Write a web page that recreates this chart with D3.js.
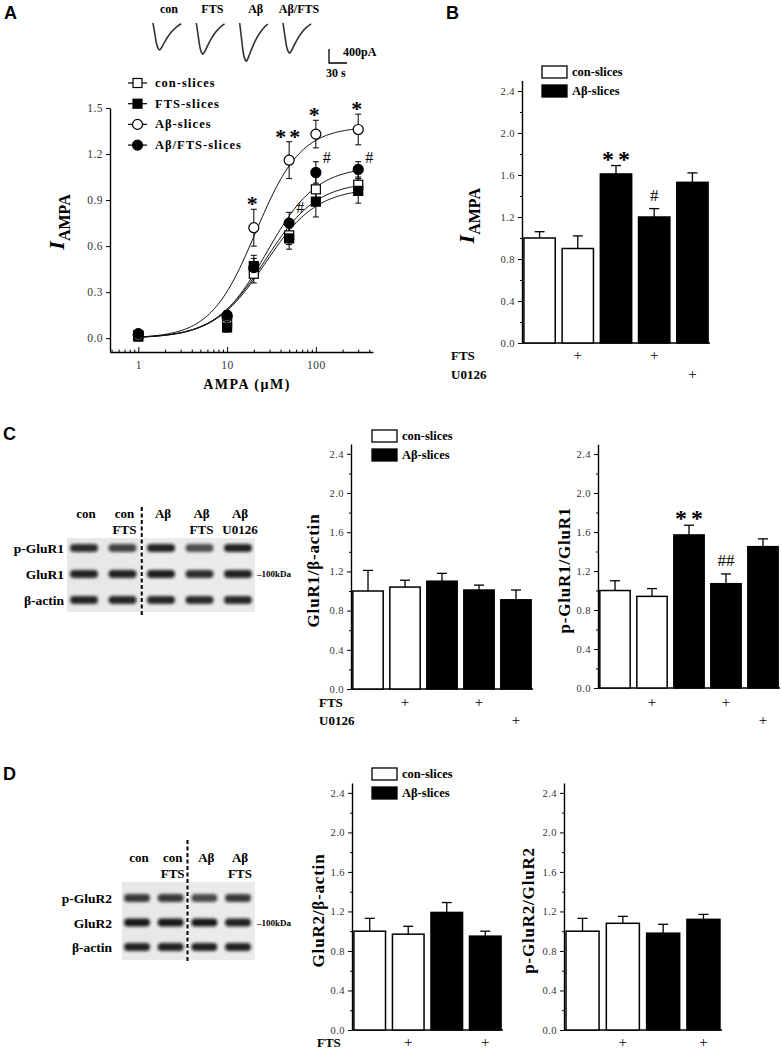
<!DOCTYPE html>
<meta charset="utf-8">
<head>
<style>
body { margin: 0; background: #fff; }
svg text { font-family: "Liberation Serif", "Times New Roman", serif; }
.panel { font-family: "Liberation Sans", Arial, sans-serif !important; font-weight: bold; font-size: 18px; }
.tk text { font-size: 10.5px; fill: #333; letter-spacing: 0.5px; }
.tk .domain { stroke: #000; stroke-width: 1.4; }
.tk line { stroke: #000; }
.lab { font-weight: bold; }
</style>
</head>
<body>
<div id="fig"></div>
<script src="https://d3js.org/d3.v7.min.js"></script>
<script>

// ---- panel A : current traces ----
var traceNames = ["con", "FTS", "Aβ", "Aβ/FTS"];
var traceAmp = [770, 890, 1090, 860];           // pA
// time (s), normalised current
var traceShape = [[0, 0], [3, -0.4], [6, -0.78], [9, -0.96], [11, -1], [14, -0.92], [19, -0.72],
                  [25, -0.5], [32, -0.3], [40, -0.13], [47, -0.03]];

// ---- panel A : dose response ----
var doses = [1, 10, 20, 50, 100, 300];
var conMean = [0.02, 0.10, 0.42, 0.67, 0.97, 1.00];
var conSem  = [0.01, 0.03, 0.06, 0.06, 0.08, 0.07];
var ftsMean = [0.01, 0.07, 0.47, 0.65, 0.89, 0.96];
var ftsSem  = [0.01, 0.03, 0.07, 0.07, 0.10, 0.08];
var abMean  = [0.02, 0.14, 0.72, 1.16, 1.33, 1.36];
var abSem   = [0.01, 0.03, 0.12, 0.12, 0.09, 0.10];
var abFtsMean = [0.03, 0.15, 0.46, 0.75, 1.08, 1.10];
var abFtsSem  = [0.01, 0.03, 0.06, 0.07, 0.07, 0.05];
var abSig    = ["", "", "*", "**", "*", "*"];
var abFtsSig = ["", "", "", "#", "#", "#"];
// Hill fit parameters (con, FTS, Aβ, Aβ/FTS)
var fitImax = [1.02, 0.98, 1.38, 1.12];
var fitEC50 = [27, 27, 21, 28];
var fitHill = [1.5, 1.5, 1.7, 1.55];

// ---- bar charts ----
var iampaMean = [1.00, 0.90, 1.61, 1.20, 1.53];
var iampaSem  = [0.06, 0.12, 0.08, 0.08, 0.09];
var iampaSig  = ["", "", "**", "#", ""];
var glur1Mean = [1.00, 1.04, 1.10, 1.01, 0.91];
var glur1Sem  = [0.21, 0.07, 0.08, 0.05, 0.10];
var pglur1Mean = [1.00, 0.94, 1.57, 1.07, 1.45];
var pglur1Sem  = [0.10, 0.08, 0.10, 0.10, 0.08];
var pglur1Sig  = ["", "", "**", "##", ""];
var glur2Mean = [1.00, 0.97, 1.19, 0.95];
var glur2Sem  = [0.13, 0.08, 0.10, 0.05];
var pglur2Mean = [1.00, 1.08, 0.98, 1.12];
var pglur2Sem  = [0.13, 0.07, 0.09, 0.05];
var group5 = ["con", "con", "ab", "ab", "ab"];
var fts5   = ["", "+", "", "+", ""];
var u5     = ["", "", "", "", "+"];
var group4 = ["con", "con", "ab", "ab"];
var fts4   = ["", "+", "", "+"];
var yTicks = [0, 0.4, 0.8, 1.2, 1.6, 2.0, 2.4];
var yMinor = [0.2, 0.6, 1.0, 1.4, 1.8, 2.2];

// ---- western blots ----
var cLaneTop = ["con", "con", "Aβ", "Aβ", "Aβ"];
var cLaneBot = ["", "FTS", "", "FTS", "U0126"];
var cRows = ["p-GluR1", "GluR1", "β-actin"];
var cBand = [[0.85, 0.75, 0.9, 0.7, 0.9], [0.9, 0.9, 0.92, 0.85, 0.9], [0.88, 0.88, 0.88, 0.86, 0.88]];
var dLaneTop = ["con", "con", "Aβ", "Aβ"];
var dLaneBot = ["", "FTS", "", "FTS"];
var dRows = ["p-GluR2", "GluR2", "β-actin"];
var dBand = [[0.8, 0.8, 0.72, 0.8], [0.95, 0.95, 0.95, 0.9], [0.9, 0.9, 0.9, 0.9]];

var W = 782, H = 1049;
var svg = d3.select("#fig").append("svg").attr("width", W).attr("height", H);
svg.append("rect").attr("width", W).attr("height", H).attr("fill", "#fff");
var defs = svg.append("defs");
defs.append("filter").attr("id", "blur").attr("x", "-20%").attr("y", "-50%").attr("width", "140%").attr("height", "200%")
  .append("feGaussianBlur").attr("stdDeviation", 1.5);
defs.append("filter").attr("id", "soft").append("feGaussianBlur").attr("stdDeviation", 0.5);

// panel letters
[["A", 4, 19], ["B", 446, 19], ["C", 3, 440], ["D", 3, 780]].forEach(function(p) {
  svg.append("text").attr("class", "panel").attr("x", p[1]).attr("y", p[2]).text(p[0]);
});

// ================= traces =================
var tx = d3.scalePoint().domain(traceNames).range([153, 283]);
var tt = d3.scaleLinear().domain([0, 30]).range([0, 18]);
var ti = d3.scaleLinear().domain([-400, 0]).range([37, 23]);
traceNames.forEach(function(name, i) {
  var line = d3.line()
    .x(function(d) { return tx(name) + tt(d[0]); })
    .y(function(d) { return ti(d[1] * traceAmp[i]); })
    .curve(d3.curveMonotoneX);
  svg.append("path").attr("d", line(traceShape)).attr("fill", "none")
    .attr("stroke", "#333").attr("stroke-width", 1.6).attr("filter", "url(#soft)");
  svg.append("text").attr("class", "lab").attr("x", tx(name) + 16).attr("y", 13)
    .attr("text-anchor", "middle").style("font-size", "12px").text(name);
});
// scale bar
var sbX = 329, sbY = 63;
svg.append("path").attr("d", "M" + sbX + "," + (sbY - (ti(-400) - ti(0))) + "V" + sbY + "H" + (sbX + tt(30)))
  .attr("fill", "none").attr("stroke", "#000").attr("stroke-width", 1.3);
svg.append("text").attr("class", "lab").attr("x", sbX + 14).attr("y", 56).style("font-size", "12px").text("400pA");
svg.append("text").attr("class", "lab").attr("x", sbX - 3).attr("y", 77).style("font-size", "12px").text("30 s");

// ================= dose response =================
var ax = d3.scaleLog().domain([0.48, 440]).range([110, 373]);
var ay = d3.scaleLinear().domain([-0.09, 1.5]).range([352, 108]);

var gA = svg.append("g");
gA.append("g").attr("class", "tk").attr("transform", "translate(110,0)")
  .call(d3.axisLeft(ay).tickValues([0, 0.3, 0.6, 0.9, 1.2, 1.5]).tickFormat(d3.format(".1f")).tickSize(4).tickSizeOuter(0))
  .selectAll("text").style("font-size", "11.5px");
gA.append("g").attr("class", "tk").attr("transform", "translate(0,352)")
  .call(d3.axisBottom(ax).tickValues([1, 10, 100]).tickFormat(d3.format("d")).tickSizeInner(-5).tickSizeOuter(0).tickPadding(9))
  .selectAll("text").style("font-size", "11.5px");
var minorX = [0.5, 0.6, 0.7, 0.8, 0.9, 2, 3, 4, 5, 6, 7, 8, 9, 20, 30, 40, 50, 60, 70, 80, 90, 200, 300, 400];
gA.append("g").attr("class", "tk").attr("transform", "translate(0,352)")
  .call(d3.axisBottom(ax).tickValues(minorX).tickFormat("").tickSizeInner(-2.5).tickSizeOuter(0))
  .select(".domain").remove();

// y label I_AMPA
var yl = gA.append("text").attr("transform", "translate(64,222) rotate(-90)").attr("text-anchor", "middle");
yl.append("tspan").style("font-style", "italic").style("font-weight", "bold").style("font-size", "22px").text("I");
yl.append("tspan").attr("dy", 6).style("font-weight", "bold").style("font-size", "16px").text("AMPA");
gA.append("text").attr("class", "lab").attr("x", 247).attr("y", 389).attr("text-anchor", "middle")
  .style("font-size", "14px").style("letter-spacing", "1.5px").text("AMPA (μM)");

var series = [
  {name: "con-slices", mean: conMean, sem: conSem, shape: "square", fill: "#fff"},
  {name: "FTS-slices", mean: ftsMean, sem: ftsSem, shape: "square", fill: "#000"},
  {name: "Aβ-slices", mean: abMean, sem: abSem, shape: "circle", fill: "#fff"},
  {name: "Aβ/FTS-slices", mean: abFtsMean, sem: abFtsSem, shape: "circle", fill: "#000"}
];

function marker(g, shape, fill, cx, cy) {
  if (shape === "square") {
    g.append("rect").attr("x", cx - 4.5).attr("y", cy - 4.5).attr("width", 9).attr("height", 9)
      .attr("fill", fill).attr("stroke", "#000").attr("stroke-width", 1.2);
  } else {
    g.append("circle").attr("cx", cx).attr("cy", cy).attr("r", 5)
      .attr("fill", fill).attr("stroke", "#000").attr("stroke-width", 1.2);
  }
}

var fitDoses = d3.range(0, 2.48, 0.02).map(function(e) { return Math.pow(10, e); });
series.forEach(function(s, i) {
  var fit = d3.line()
    .x(function(d) { return ax(d); })
    .y(function(d) { var p = Math.pow(d / fitEC50[i], fitHill[i]); return ay(fitImax[i] * p / (1 + p)); });
  gA.append("path").attr("d", fit(fitDoses)).attr("fill", "none").attr("stroke", "#111").attr("stroke-width", 1);
});
series.forEach(function(s) {
  doses.forEach(function(d, j) {
    var cx = ax(d);
    gA.append("line").attr("x1", cx).attr("x2", cx).attr("y1", ay(s.mean[j] - s.sem[j])).attr("y2", ay(s.mean[j] + s.sem[j]))
      .attr("stroke", "#000").attr("stroke-width", 1);
    [s.mean[j] - s.sem[j], s.mean[j] + s.sem[j]].forEach(function(v) {
      gA.append("line").attr("x1", cx - 3).attr("x2", cx + 3).attr("y1", ay(v)).attr("y2", ay(v)).attr("stroke", "#000");
    });
  });
});
series.forEach(function(s) {
  doses.forEach(function(d, j) { marker(gA, s.shape, s.fill, ax(d), ay(s.mean[j])); });
});
doses.forEach(function(d, j) {
  if (abSig[j]) gA.append("text").attr("class", "lab").attr("x", ax(d)).attr("y", ay(abMean[j] + abSem[j]) + 2)
    .attr("text-anchor", "middle").style("font-size", "22px").style("letter-spacing", "3px").text(abSig[j]);
  if (abFtsSig[j]) gA.append("text").attr("x", ax(d) + 11).attr("y", ay(abFtsMean[j] + abFtsSem[j]) + 1)
    .attr("text-anchor", "middle").style("font-size", "16px").text(abFtsSig[j]);
});
// legend A
series.forEach(function(s, i) {
  var ly = 83 + i * 20.7;
  gA.append("line").attr("x1", 128).attr("x2", 147).attr("y1", ly).attr("y2", ly).attr("stroke", "#000").attr("stroke-width", 1.2);
  marker(gA, s.shape, s.fill, 137.5, ly);
  gA.append("text").attr("class", "lab").attr("x", 155).attr("y", ly + 4).style("font-size", "12.5px")
    .style("letter-spacing", "1px").text(s.name);
});

// ================= bar chart panels =================
function legend(x, y) {
  [["con-slices", "#fff"], ["Aβ-slices", "#000"]].forEach(function(l, i) {
    svg.append("rect").attr("x", x).attr("y", y + i * 19).attr("width", 25).attr("height", 12)
      .attr("fill", l[1]).attr("stroke", "#000").attr("stroke-width", 1.3);
    svg.append("text").attr("class", "lab").attr("x", x + 30).attr("y", y + i * 19 + 10)
      .style("font-size", "12.5px").text(l[0]);
  });
}

function barPanel(c) {
  var n = c.mean.length;
  var x = d3.scaleBand().domain(d3.range(n)).range(c.xr).paddingInner(0.18).paddingOuter(0.05);
  var y = d3.scaleLinear().domain([0, 2.5]).range(c.yr);
  var g = svg.append("g");
  g.append("g").attr("class", "tk").attr("transform", "translate(" + c.xr[0] + ",0)")
    .call(d3.axisLeft(y).tickValues(yTicks).tickFormat(d3.format(".1f")).tickSize(4).tickSizeOuter(0));
  g.append("g").attr("class", "tk").attr("transform", "translate(" + c.xr[0] + ",0)")
    .call(d3.axisLeft(y).tickValues(yMinor).tickFormat("").tickSize(2).tickSizeOuter(0))
    .select(".domain").remove();
  g.append("line").attr("x1", c.xr[0]).attr("x2", c.xr[1]).attr("y1", y(0)).attr("y2", y(0))
    .attr("stroke", "#000").attr("stroke-width", 1.4);
  c.mean.forEach(function(m, i) {
    var cx = x(i) + x.bandwidth() / 2, top = y(m + c.sem[i]);
    g.append("line").attr("x1", cx).attr("x2", cx).attr("y1", y(m)).attr("y2", top).attr("stroke", "#000").attr("stroke-width", 1.3);
    g.append("line").attr("x1", cx - 5).attr("x2", cx + 5).attr("y1", top).attr("y2", top).attr("stroke", "#000").attr("stroke-width", 1.3);
    g.append("rect").attr("x", x(i)).attr("y", y(m)).attr("width", x.bandwidth()).attr("height", y(0) - y(m))
      .attr("fill", c.group[i] === "con" ? "#fff" : "#000").attr("stroke", "#000").attr("stroke-width", 1.5);
    var s = c.sig ? c.sig[i] : "";
    if (s.indexOf("*") >= 0) {
      g.append("text").attr("class", "lab").attr("x", cx + 2).attr("y", top + 1).attr("text-anchor", "middle")
        .style("font-size", "24px").style("letter-spacing", "4px").text(s);
    } else if (s) {
      g.append("text").attr("x", cx).attr("y", top - 8).attr("text-anchor", "middle")
        .style("font-size", "17px").text(s);
    }
  });
  c.rows.forEach(function(r) {
    if (c.rowLabelX !== null) g.append("text").attr("class", "lab").attr("x", c.rowLabelX).attr("y", r.y)
      .style("font-size", "13px").text(r.label);
    r.marks.forEach(function(mk, i) {
      if (mk) g.append("text").attr("x", x(i) + x.bandwidth() / 2).attr("y", r.y).attr("text-anchor", "middle")
        .style("font-size", "15px").text(mk);
    });
  });
  var cy = (c.yr[0] + c.yr[1]) / 2 + 4;
  if (c.iampa) {
    var t = g.append("text").attr("transform", "translate(" + c.ylabelX + "," + cy + ") rotate(-90)").attr("text-anchor", "middle");
    t.append("tspan").style("font-style", "italic").style("font-weight", "bold").style("font-size", "22px").text("I");
    t.append("tspan").attr("dy", 6).style("font-weight", "bold").style("font-size", "16px").text("AMPA");
  } else {
    g.append("text").attr("class", "lab").attr("transform", "translate(" + c.ylabelX + "," + cy + ") rotate(-90)")
      .attr("text-anchor", "middle").attr("dy", "0.35em").style("font-size", "17px").style("letter-spacing", "0.8px").text(c.ylabel);
  }
}

// B
legend(542, 66);
barPanel({xr: [522, 710], yr: [343, 80.5], mean: iampaMean, sem: iampaSem, group: group5, sig: iampaSig,
  iampa: true, ylabelX: 474, rowLabelX: 451,
  rows: [{label: "FTS", marks: fts5, y: 360}, {label: "U0126", marks: u5, y: 379}]});
// C middle
legend(372, 430);
barPanel({xr: [351, 533], yr: [689, 444], mean: glur1Mean, sem: glur1Sem, group: group5,
  ylabel: "GluR1/β-actin", ylabelX: 313, rowLabelX: 319,
  rows: [{label: "FTS", marks: fts5, y: 707}, {label: "U0126", marks: u5, y: 725}]});
// C right
barPanel({xr: [598, 780], yr: [688, 444.3], mean: pglur1Mean, sem: pglur1Sem, group: group5, sig: pglur1Sig,
  ylabel: "p-GluR1/GluR1", ylabelX: 564, rowLabelX: null,
  rows: [{label: "", marks: fts5, y: 707}, {label: "", marks: u5, y: 725}]});
// D middle
legend(372, 768);
barPanel({xr: [352, 503], yr: [1030, 783], mean: glur2Mean, sem: glur2Sem, group: group4,
  ylabel: "GluR2/β-actin", ylabelX: 318, rowLabelX: 317,
  rows: [{label: "FTS", marks: fts4, y: 1047}]});
// D right
barPanel({xr: [564, 722], yr: [1030, 783], mean: pglur2Mean, sem: pglur2Sem, group: group4,
  ylabel: "p-GluR2/GluR2", ylabelX: 528, rowLabelX: null,
  rows: [{label: "", marks: fts4, y: 1047}]});

// ================= western blots =================
function blot(c) {
  var lx = d3.scalePoint().domain(d3.range(c.top.length)).range(c.lanes);
  var ry = d3.scalePoint().domain(c.rows).range(c.rowY);
  var g = svg.append("g");
  var split = (lx(1) + lx(2)) / 2;
  g.append("rect").attr("x", c.bg[0]).attr("y", c.bg[1]).attr("width", split - c.bg[0] - 1).attr("height", c.bg[3] - c.bg[1])
    .attr("fill", "#e8e8e8").attr("filter", "url(#soft)");
  g.append("rect").attr("x", split + 1).attr("y", c.bg[1]).attr("width", c.bg[2] - split - 1).attr("height", c.bg[3] - c.bg[1])
    .attr("fill", "#ebebeb").attr("filter", "url(#soft)");
  c.rows.forEach(function(r, i) {
    g.append("text").attr("class", "lab").attr("x", c.labelX).attr("y", ry(r) + 5).attr("text-anchor", "end")
      .style("font-size", "13.5px").text(r);
    c.band[i].forEach(function(v, j) {
      g.append("rect").attr("x", lx(j) - c.bw / 2).attr("y", ry(r) - 4).attr("width", c.bw).attr("height", 8).attr("rx", 4)
        .attr("fill", "#111").attr("opacity", v).attr("filter", "url(#blur)");
    });
  });
  c.top.forEach(function(t, j) {
    g.append("text").attr("class", "lab").attr("x", lx(j) + 2).attr("y", c.headY).attr("text-anchor", "middle")
      .style("font-size", "13px").text(t);
    if (c.bot[j]) g.append("text").attr("class", "lab").attr("x", lx(j) + 2).attr("y", c.headY + 16).attr("text-anchor", "middle")
      .style("font-size", "13px").text(c.bot[j]);
  });
  g.append("line").attr("x1", split).attr("x2", split).attr("y1", c.dashY[0]).attr("y2", c.dashY[1])
    .attr("stroke", "#000").attr("stroke-width", 2).attr("stroke-dasharray", "4,2.5");
  g.append("text").attr("class", "lab").attr("x", c.bg[2] + 2).attr("y", ry(c.rows[1]) + 3)
    .style("font-size", "9px").text("–100kDa");
}
blot({top: cLaneTop, bot: cLaneBot, rows: cRows, band: cBand, lanes: [84, 238], rowY: [548, 600], bw: 28,
  bg: [67, 538, 255, 612], labelX: 64, headY: 518, dashY: [507, 617]});
blot({top: dLaneTop, bot: dLaneBot, rows: dRows, band: dBand, lanes: [137, 238], rowY: [898, 947], bw: 26,
  bg: [122, 882, 255, 960], labelX: 112, headY: 862, dashY: [840, 962]});

</script>
</body>
